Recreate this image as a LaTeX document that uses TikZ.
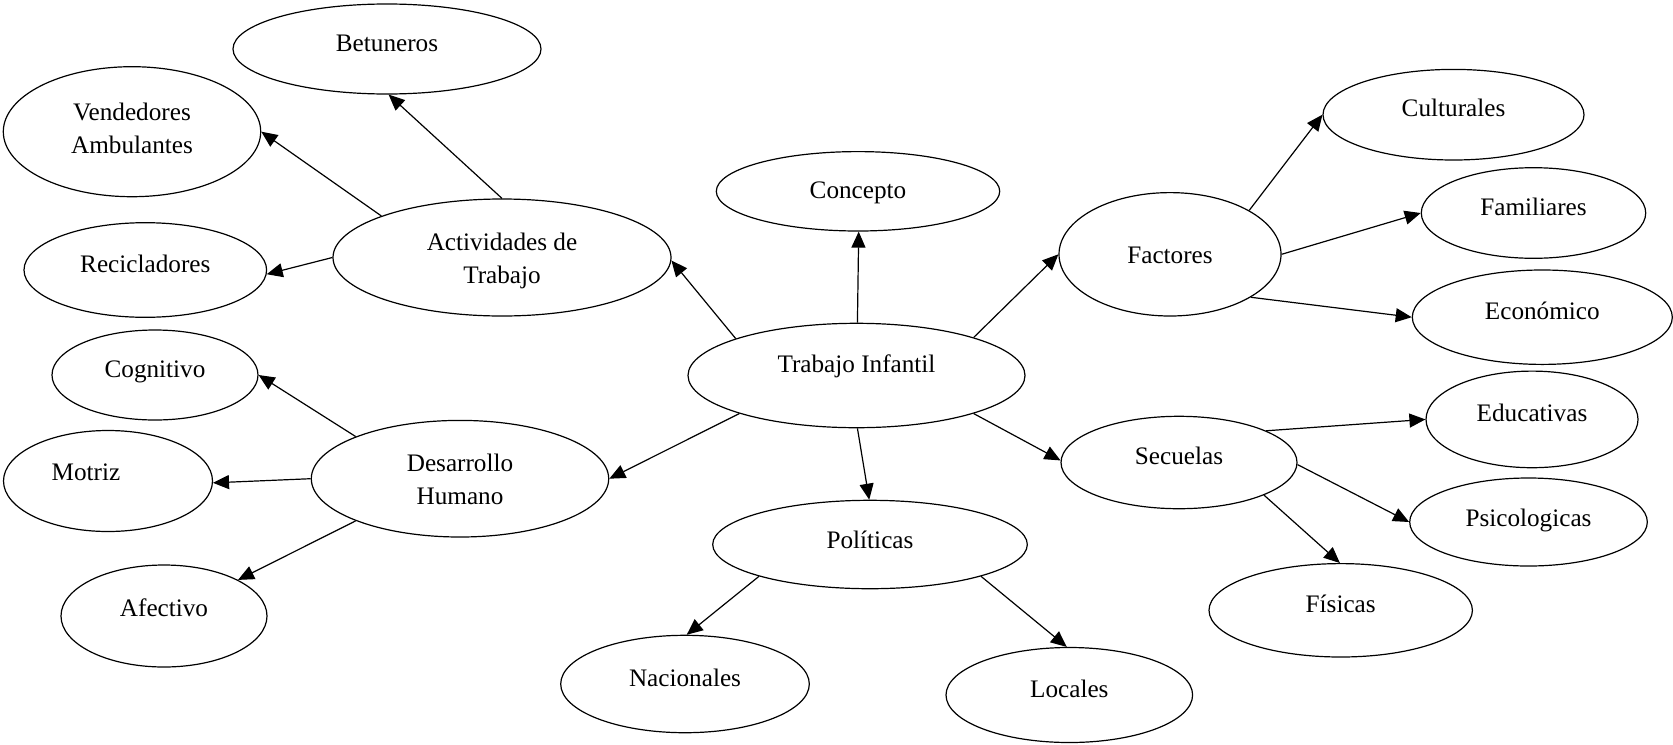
\documentclass[tikz,border=0pt]{standalone}
\usepackage{fontspec}
\setmainfont{Liberation Serif}
\usetikzlibrary{arrows.meta,shapes.geometric}
\begin{document}
\begin{tikzpicture}[x=0.5pt,y=-0.5pt,
  el/.style={draw, ellipse, line width=0.6pt, inner sep=0pt, outer sep=0.3pt,
    text height=8pt, text depth=6pt, font=\fontsize{12.6pt}{16.4pt}\selectfont},
  conn/.style={line width=0.6pt, -{Triangle[length=8pt,width=7pt]}}]
\useasboundingbox (0,0) rectangle (1673,744);

\node[el, minimum width=154pt, minimum height=45pt] (bet) at (387,49) {Betuneros};
\node[el, minimum width=128.7pt, minimum height=65pt] (ven) at (132,131.7) {\raisebox{-9.65pt}{\begin{tabular}[b]{@{}c@{}}Vendedores\\Ambulantes\end{tabular}}};
\node[el, minimum width=121.3pt, minimum height=47.3pt] (rec) at (145.3,270) {Recicladores};
\node[el, minimum width=169pt, minimum height=58.5pt] (act) at (502,257.5) {\raisebox{-11.9pt}{\begin{tabular}[b]{@{}c@{}}Actividades de\\Trabajo\end{tabular}}};
\node[el, minimum width=103pt, minimum height=45pt] (cog) at (155,375) {Cognitivo};
\node[el, minimum width=104.5pt, minimum height=50.5pt] (mot) at (108,481) {\raisebox{1.5pt}{\makebox[0pt]{\hspace*{-22pt}Motriz}}};
\node[el, minimum width=148.7pt, minimum height=58.3pt] (des) at (460,478.7) {\raisebox{-12pt}{\begin{tabular}[b]{@{}c@{}}Desarrollo\\Humano\end{tabular}}};
\node[el, minimum width=103pt, minimum height=51pt] (afe) at (164,616) {\raisebox{1pt}{Afectivo}};
\node[el, minimum width=141.7pt, minimum height=39.7pt] (con) at (858,191.3) {\raisebox{-2.5pt}{Concepto}};
\node[el, minimum width=168.5pt, minimum height=52.2pt] (tra) at (856.5,375.5) {\raisebox{2.75pt}{Trabajo Infantil}};
\node[el, minimum width=157.3pt, minimum height=44.2pt] (pol) at (870,544.5) {\raisebox{-1.1pt}{Políticas}};
\node[el, minimum width=124.3pt, minimum height=48.7pt] (nac) at (685,684) {Nacionales};
\node[el, minimum width=123.3pt, minimum height=47.5pt] (loc) at (1069.3,695) {Locales};
\node[el, minimum width=111pt, minimum height=61.7pt] (fac) at (1170,254.3) {\raisebox{-3.35pt}{Factores}};
\node[el, minimum width=130.5pt, minimum height=45.3pt] (cul) at (1453.5,114.7) {Culturales};
\node[el, minimum width=112.2pt, minimum height=45.3pt] (fam) at (1533.5,213) {Familiares};
\node[el, minimum width=130pt, minimum height=47.2pt] (eco) at (1542.3,317.2) {Económico};
\node[el, minimum width=118pt, minimum height=46.2pt] (sec) at (1179,462.5) {Secuelas};
\node[el, minimum width=106pt, minimum height=48.3pt] (edu) at (1532,419.4) {Educativas};
\node[el, minimum width=118.8pt, minimum height=44pt] (psi) at (1528.5,522) {\raisebox{-1pt}{Psicologicas}};
\node[el, minimum width=131.7pt, minimum height=46.7pt] (fis) at (1340.7,610.3) {Físicas};

\draw[conn] (act.90) -- (bet.272);
\draw[conn] (act.161) -- (ven.0);
\draw[conn] (act.180) -- (rec.358);
\draw[conn] (des.158) -- (cog.0);
\draw[conn] (des.180) -- (mot.359);
\draw[conn] (des.202) -- (afe.26);
\draw[conn] (tra.163) -- (act.359);
\draw[conn] (tra.89) -- (con.271);
\draw[conn] (tra.18) -- (fac.180);
\draw[conn] (tra.198) -- (des.0);
\draw[conn] (tra.271) -- (pol.91);
\draw[conn] (tra.342) -- (sec.179);
\draw[conn] (pol.196) -- (nac.88);
\draw[conn] (pol.344) -- (loc.93);
\draw[conn] (fac.29) -- (cul.180);
\draw[conn] (fac.0) -- (fam.180);
\draw[conn] (fac.332) -- (eco.180);
\draw[conn] (sec.20) -- (edu.180);
\draw[conn] (sec.359) -- (psi.180);
\draw[conn] (sec.339) -- (fis.91);
\end{tikzpicture}
\end{document}
